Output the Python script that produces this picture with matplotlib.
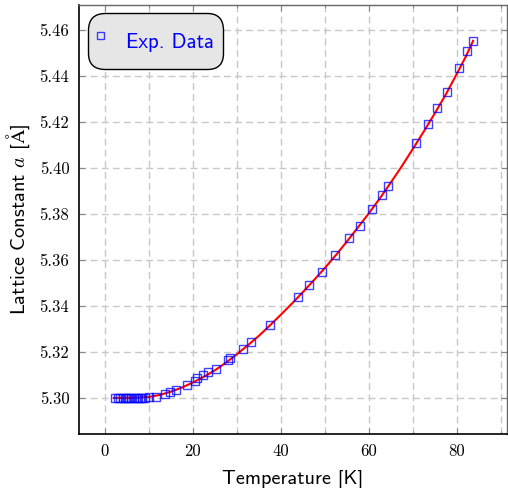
import matplotlib
matplotlib.use("Agg")
import matplotlib.pyplot as plt
from matplotlib.ticker import MultipleLocator

plt.rcParams['mathtext.fontset'] = 'cm'
plt.rcParams['axes.unicode_minus'] = False
plt.rcParams['axes.formatter.use_mathtext'] = False

temp = [2.3, 3.0, 3.5, 4.0, 4.5, 5.0, 5.5, 6.0, 6.5, 7.0, 7.5, 8.0, 8.5, 9.0, 10.0,
        11.7, 13.6, 14.9, 16.1, 18.7, 20.5, 20.9, 22.3, 23.5, 25.2, 28.0, 28.4,
        31.4, 33.1, 37.6, 44.0, 46.5, 49.3, 52.4, 55.5, 57.9, 60.7, 62.9, 64.3,
        70.8, 73.5, 75.6, 77.7, 80.5, 82.4, 83.7]
lattice = [5.3000, 5.3000, 5.3000, 5.3000, 5.3000, 5.3000, 5.3000, 5.3000, 5.3000,
           5.3000, 5.3000, 5.3000, 5.3000, 5.3000, 5.3002,
           5.3006, 5.3018, 5.3026, 5.3035, 5.3055, 5.3075, 5.3085, 5.3098, 5.3113,
           5.3125, 5.3163, 5.3173, 5.3212, 5.3242, 5.3317, 5.3440, 5.3490, 5.3549,
           5.3623, 5.3694, 5.3749, 5.3820, 5.3883, 5.3923, 5.4109, 5.4190, 5.4261,
           5.4330, 5.4433, 5.4508, 5.4553]

# Fit curve
fit_temp = [2.0, 6.0, 10.0, 12.5, 15.0, 17.5, 20.0, 22.5, 25.0, 27.5, 30.0, 32.5, 35.0,
            37.5, 40.0, 42.5, 45.0, 47.5, 50.0, 52.5, 55.0, 57.5, 60.0, 62.5, 65.0,
            67.5, 70.0, 72.5, 75.0, 77.5, 80.0, 82.0, 83.7]
fit_lattice = [5.3000, 5.3000, 5.3004, 5.3013, 5.3027, 5.3045, 5.3067, 5.3092, 5.3120,
               5.3153, 5.3190, 5.3229, 5.3270, 5.3315, 5.3362, 5.3410, 5.3460, 5.3512,
               5.3565, 5.3621, 5.3680, 5.3741, 5.3803, 5.3868, 5.3937, 5.4008, 5.4083,
               5.4159, 5.4238, 5.4320, 5.4410, 5.4483, 5.4553]

fig = plt.figure(figsize=(5.08, 4.88), dpi=100)
ax = fig.add_axes([0.1555, 0.1107, 0.8425, 0.8791])

ax.plot(fit_temp, fit_lattice, color='red', lw=1.5, zorder=2)
ax.plot(temp, lattice, ls='none', marker='s', ms=6.3, mfc='none', mec='blue',
        mew=1.0, alpha=0.75, label='Exp. Data', zorder=3)

ax.set_xlim(-5.9, 91.4)
ax.set_ylim(5.2843, 5.4709)
ax.xaxis.set_major_locator(MultipleLocator(20))
ax.xaxis.set_minor_locator(MultipleLocator(10))
ax.yaxis.set_major_locator(MultipleLocator(0.02))
ax.yaxis.set_major_formatter(matplotlib.ticker.FormatStrFormatter('%.2f'))

ax.grid(True, which='both', axis='x', color='#c8c8c8', ls=(0, (5, 3)), lw=1.0)
ax.grid(True, which='major', axis='y', color='#c8c8c8', ls=(0, (5, 3)), lw=1.0)
ax.set_axisbelow(True)

ax.tick_params(which='both', direction='in', top=True, right=True, color='#888888',
               labelsize=12, pad=7)
ax.tick_params(which='major', length=4)
ax.tick_params(which='minor', length=2)
for lbl in ax.get_xticklabels() + ax.get_yticklabels():
    lbl.set_fontfamily('cmr10')

for side in ['left', 'bottom']:
    ax.spines[side].set_color('black')
    ax.spines[side].set_linewidth(1.2)
for side in ['top', 'right']:
    ax.spines[side].set_color('#666666')
    ax.spines[side].set_linewidth(1.0)

ax.set_xlabel('Temperature [K]', family='cmss10', fontsize=14.6, labelpad=8)
ax.set_ylabel(r'Lattice Constant $a$ [$\mathsf{\AA}$]', family='cmss10', fontsize=14.6,
              labelpad=5)

leg = ax.legend(loc='upper left', prop={'family': 'cmss10', 'size': 15},
                labelcolor='blue', handlelength=0.3, handleheight=2.4, handletextpad=1.08,
                borderpad=0.45, borderaxespad=0.0, fancybox=True, framealpha=1.0,
                markerscale=0.8, bbox_to_anchor=(0.021, 0.981))
frame = leg.get_frame()
frame.set_facecolor('#e6e6e6')
frame.set_edgecolor('black')
frame.set_linewidth(1.0)
frame.set_boxstyle('round,pad=0.0,rounding_size=0.8')

fig.savefig('out.png', dpi=100)
